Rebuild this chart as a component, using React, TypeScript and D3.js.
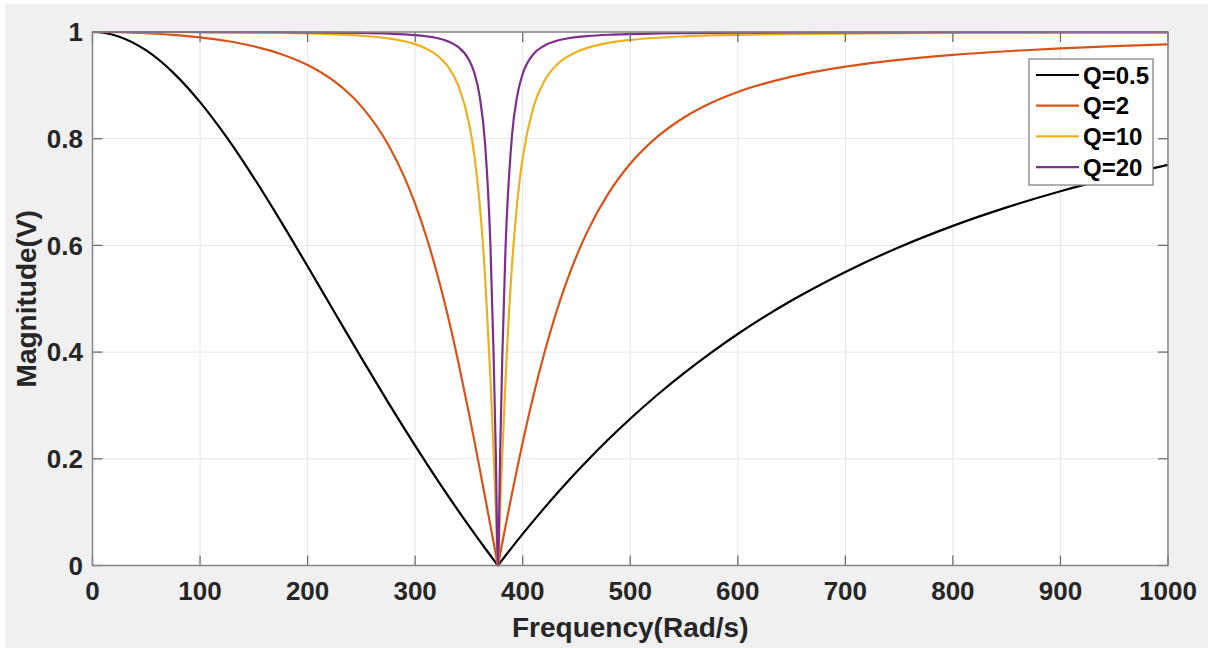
import * as d3 from 'd3'

// frequency samples (rad/s), denser near the 377 rad/s notch
const freq = [0, 10, 25, 50, 75, 100, 125, 150, 175, 200, 225, 250, 275, 290, 300, 310, 320, 330, 340, 350, 355, 360, 365, 370, 373, 375, 377, 379, 381, 384, 390, 395, 400, 410, 420, 430, 440, 450, 460, 480, 500, 525, 550, 575, 600, 650, 700, 750, 800, 850, 900, 950, 1000]

// magnitudes for each Q
const magQ05 = [1, 0.9986, 0.9912, 0.9654, 0.9239, 0.8685, 0.8019, 0.7267, 0.6455, 0.5608, 0.4747, 0.3891, 0.3054, 0.2565, 0.2246, 0.1932, 0.1625, 0.1324, 0.1029, 0.0742, 0.0601, 0.0461, 0.0323, 0.0187, 0.0107, 0.0053, 0, 0.0053, 0.0106, 0.0184, 0.0339, 0.0466, 0.0592, 0.0837, 0.1076, 0.1308, 0.1533, 0.1752, 0.1964, 0.2370, 0.2751, 0.3196, 0.3607, 0.3987, 0.4339, 0.4966, 0.5503, 0.5966, 0.6366, 0.6712, 0.7015, 0.7279, 0.7511]
const magQ2 = [1, 0.9999, 0.9995, 0.9977, 0.9947, 0.9900, 0.9831, 0.9732, 0.9589, 0.9381, 0.9073, 0.8606, 0.7887, 0.7279, 0.6778, 0.6188, 0.5501, 0.4712, 0.3825, 0.2852, 0.2340, 0.1816, 0.1283, 0.0748, 0.0426, 0.0213, 0, 0.0212, 0.0422, 0.0734, 0.1344, 0.1835, 0.2306, 0.3185, 0.3973, 0.4667, 0.5273, 0.5799, 0.6253, 0.6983, 0.7530, 0.8033, 0.8398, 0.8669, 0.8875, 0.9163, 0.9350, 0.9478, 0.9571, 0.9639, 0.9692, 0.9734, 0.9767]
const magQ10 = [1, 1, 1, 0.9999, 0.9998, 0.9996, 0.9993, 0.9989, 0.9983, 0.9973, 0.9957, 0.9931, 0.9881, 0.9827, 0.9773, 0.9692, 0.9569, 0.9365, 0.9004, 0.8299, 0.7691, 0.6783, 0.5433, 0.3510, 0.2087, 0.1058, 0, 0.1052, 0.2065, 0.3453, 0.5613, 0.6822, 0.7643, 0.8593, 0.9078, 0.9351, 0.9518, 0.9627, 0.9702, 0.9796, 0.9851, 0.9892, 0.9917, 0.9935, 0.9947, 0.9962, 0.9971, 0.9977, 0.9982, 0.9985, 0.9987, 0.9989, 0.9990]
const magQ20 = [1, 1, 1, 1, 1, 0.9999, 0.9998, 0.9997, 0.9996, 0.9993, 0.9989, 0.9983, 0.9970, 0.9956, 0.9942, 0.9920, 0.9887, 0.9829, 0.9721, 0.9479, 0.9235, 0.8793, 0.7913, 0.5999, 0.3925, 0.2081, 0, 0.2071, 0.3889, 0.5927, 0.8049, 0.8814, 0.9214, 0.9585, 0.9743, 0.9825, 0.9873, 0.9903, 0.9923, 0.9948, 0.9962, 0.9973, 0.9979, 0.9984, 0.9987, 0.9991, 0.9993, 0.9994, 0.9995, 0.9996, 0.9997, 0.9997, 0.9998]

const seriesNames = ['Q=0.5', 'Q=2', 'Q=10', 'Q=20']
const seriesColors = ['#000000', '#d95319', '#edb120', '#7e2f8e']
const xTicks = [0, 100, 200, 300, 400, 500, 600, 700, 800, 900, 1000]
const yTicks = [0, 0.2, 0.4, 0.6, 0.8, 1]

const W = 1208
const H = 648
const left = 92.5
const right = 1168
const top = 32
const bottom = 565.5
const font = '"Liberation Sans", Arial, Helvetica, sans-serif'
const textColor = '#262626'

export default function App() {
  const x = d3.scaleLinear().domain([0, 1000]).range([left, right])
  const y = d3.scaleLinear().domain([0, 1]).range([bottom, top])

  const allSeries = [magQ05, magQ2, magQ10, magQ20]
  const line = d3
    .line<number>()
    .x((_, i) => x(freq[i]))
    .y((d) => y(d))
    .curve(d3.curveMonotoneX)

  const legendX = 1029
  const legendY = 59

  return (
    <svg
      width={W}
      height={H}
      style={{ position: 'absolute', left: 0, top: 0, display: 'block' }}
    >
      <rect x={0} y={0} width={W} height={H} fill="#ffffff" />
      <rect x={5} y={4} width={W - 5} height={H - 4} fill="#f0f0f0" />
      <rect x={left} y={top} width={right - left} height={bottom - top} fill="#ffffff" />

      {/* grid */}
      {xTicks.map((t) => (
        <line key={'gx' + t} x1={x(t)} x2={x(t)} y1={top} y2={bottom} stroke="#e6e6e6" strokeWidth={1} />
      ))}
      {yTicks.map((t) => (
        <line key={'gy' + t} x1={left} x2={right} y1={y(t)} y2={y(t)} stroke="#e6e6e6" strokeWidth={1} />
      ))}

      {/* curves */}
      {allSeries.map((s, i) => (
        <path key={seriesNames[i]} d={line(s) || ''} fill="none" stroke={seriesColors[i]} strokeWidth={2.2} strokeLinejoin="round" />
      ))}

      {/* ticks, inward */}
      {xTicks.map((t) => (
        <g key={'tx' + t} stroke="#6e6e6e" strokeWidth={1.3}>
          <line x1={x(t)} x2={x(t)} y1={bottom} y2={bottom - 10} />
          <line x1={x(t)} x2={x(t)} y1={top} y2={top + 10} />
        </g>
      ))}
      {yTicks.map((t) => (
        <g key={'ty' + t} stroke="#6e6e6e" strokeWidth={1.3}>
          <line x1={left} x2={left + 10} y1={y(t)} y2={y(t)} />
          <line x1={right} x2={right - 10} y1={y(t)} y2={y(t)} />
        </g>
      ))}

      {/* box */}
      <rect x={left} y={top} width={right - left} height={bottom - top} fill="none" stroke="#858585" strokeWidth={1.5} />

      {/* tick labels */}
      {xTicks.map((t) => (
        <text key={'lx' + t} x={x(t)} y={600} textAnchor="middle" fontFamily={font} fontWeight="bold" fontSize={26} fill={textColor}>
          {t}
        </text>
      ))}
      {yTicks.map((t) => (
        <text key={'ly' + t} x={83} y={y(t)} dy="0.36em" textAnchor="end" fontFamily={font} fontWeight="bold" fontSize={26} fill={textColor}>
          {t}
        </text>
      ))}

      {/* axis labels */}
      <text x={(left + right) / 2} y={637} textAnchor="middle" fontFamily={font} fontWeight="bold" fontSize={28} fill={textColor}>
        Frequency(Rad/s)
      </text>
      <text
        transform={`translate(36, ${(top + bottom) / 2}) rotate(-90)`}
        textAnchor="middle"
        fontFamily={font}
        fontWeight="bold"
        fontSize={28}
        fill={textColor}
      >
        Magnitude(V)
      </text>

      {/* legend */}
      <rect x={legendX} y={legendY} width={124} height={126} fill="#ffffff" stroke="#858585" strokeWidth={1.3} />
      {seriesNames.map((name, i) => {
        const ry = legendY + 16 + i * 30.7
        return (
          <g key={'lg' + name}>
            <line x1={legendX + 7} x2={legendX + 50} y1={ry} y2={ry} stroke={seriesColors[i]} strokeWidth={2.2} />
            <text x={legendX + 54} y={ry} dy="0.36em" fontFamily={font} fontWeight="bold" fontSize={24} fill="#000000">
              {name}
            </text>
          </g>
        )
      })}
    </svg>
  )
}
